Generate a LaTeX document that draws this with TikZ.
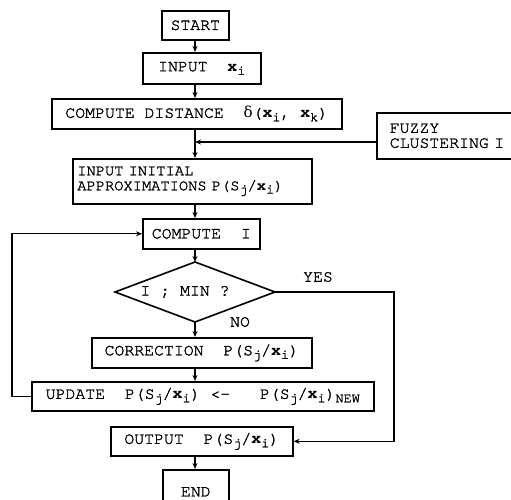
\documentclass[tikz,border=0pt]{standalone}
\usepackage{fontspec}
\setmainfont{TeX Gyre Cursor}[UprightFeatures={FakeBold=1.6}]
\newfontfamily\grk{DejaVu Serif}
\usetikzlibrary{arrows.meta}
\newcommand\vx{\textbf{x}}
\newcommand\lo[1]{\raisebox{-0.5ex}{\fontsize{13.5}{13.5}\selectfont #1}}
\tikzset{
  box/.style={draw, line width=1.6pt, inner sep=0pt, anchor=north west,
    font=\fontsize{16.5}{15}\selectfont},
  lbl/.style={inner sep=0pt, font=\fontsize{16.5}{15}\selectfont},
  conn/.style={line width=1.3pt},
  arr/.style={conn, -{Stealth[length=6pt,width=5pt]}},
}
\begin{document}
\begin{tikzpicture}[x=1pt,y=-1pt]
\useasboundingbox (0,0) rectangle (511,499);
\node[box, minimum width=67, minimum height=29] (start) at (161,10) {START};
\node[box, minimum width=118, minimum height=31] (input) at (142,52) {INPUT\ \ \vx\lo{i}};
\node[box, minimum width=290, minimum height=30] (dist) at (51,98) {COMPUTE DISTANCE\ \ {\grk\fontsize{15}{15}\selectfont δ}(\vx\lo{i}, \vx\lo{k})};
\node[box, minimum width=154, minimum height=46, align=left, text width=128] (fuzzy) at (376,112) {\mbox{FUZZY}\\\mbox{CLUSTERING I}};
\node[box, minimum width=239, minimum height=45, align=left, text width=238, font=\fontsize{15.4}{15}\selectfont] (init) at (72,158) {\hspace*{4pt}\mbox{INPUT INITIAL}\\\hspace*{4pt}\mbox{APPROXIMATIONS P(S\lo{j}/\vx\lo{i})}};
\node[box, minimum width=117, minimum height=30] (compI) at (142,218) {COMPUTE\ \ I};
\coordinate (dT) at (195,262);
\coordinate (dR) at (275,292);
\coordinate (dB) at (195,322);
\coordinate (dL) at (115,292);
\draw[line width=1.6pt] (dT) -- (dR) -- (dB) -- (dL) -- cycle;
\node[lbl] (dtext) at (185,292) {I ; MIN ?};
\node[box, minimum width=220, minimum height=30] (corr) at (91,337) {CORRECTION\ \ P(S\lo{j}/\vx\lo{i})};
\node[box, minimum width=342, minimum height=29] (upd) at (31,381) {UPDATE\ \ P(S\lo{j}/\vx\lo{i}) <-\ \ \ P(S\lo{j}/\vx\lo{i})\lo{NEW}};
\node[box, minimum width=182, minimum height=29] (out) at (110,426) {OUTPUT\ \ P(S\lo{j}/\vx\lo{i})};
\node[box, minimum width=66, minimum height=44] (end) at (162,469) {END};
\node[lbl] (yes) at (318,277) {YES};
\node[lbl] (no) at (240,322) {NO};
% connectors
\coordinate (mx) at (195,0);
\draw[arr] (start.south -| mx) -- (input.north -| mx);
\draw[arr] (input.south -| mx) -- (dist.north -| mx);
\draw[arr] (dist.south -| mx) -- (init.north -| mx);
\coordinate (fj) at (195,142);
\draw[arr] (fuzzy.west |- fj) -- (fj);
\draw[arr] (init.south -| mx) -- (compI.north -| mx);
\draw[arr] (compI.south -| mx) -- (dT);
\draw[arr] (dB) -- (corr.north -| mx);
\draw[arr] (corr.south -| mx) -- (upd.north -| mx);
\coordinate (lp) at (12,0);
\draw[arr] (upd.west) -- (upd.west -| lp) -- (compI.west -| lp) -- (compI.west);
\coordinate (rp) at (394,0);
\draw[arr] (dR) -- (dR -| rp) -- (out.east -| rp) -- (out.east);
\draw[arr] (out.south -| mx) -- (end.north -| mx);
\end{tikzpicture}
\end{document}
